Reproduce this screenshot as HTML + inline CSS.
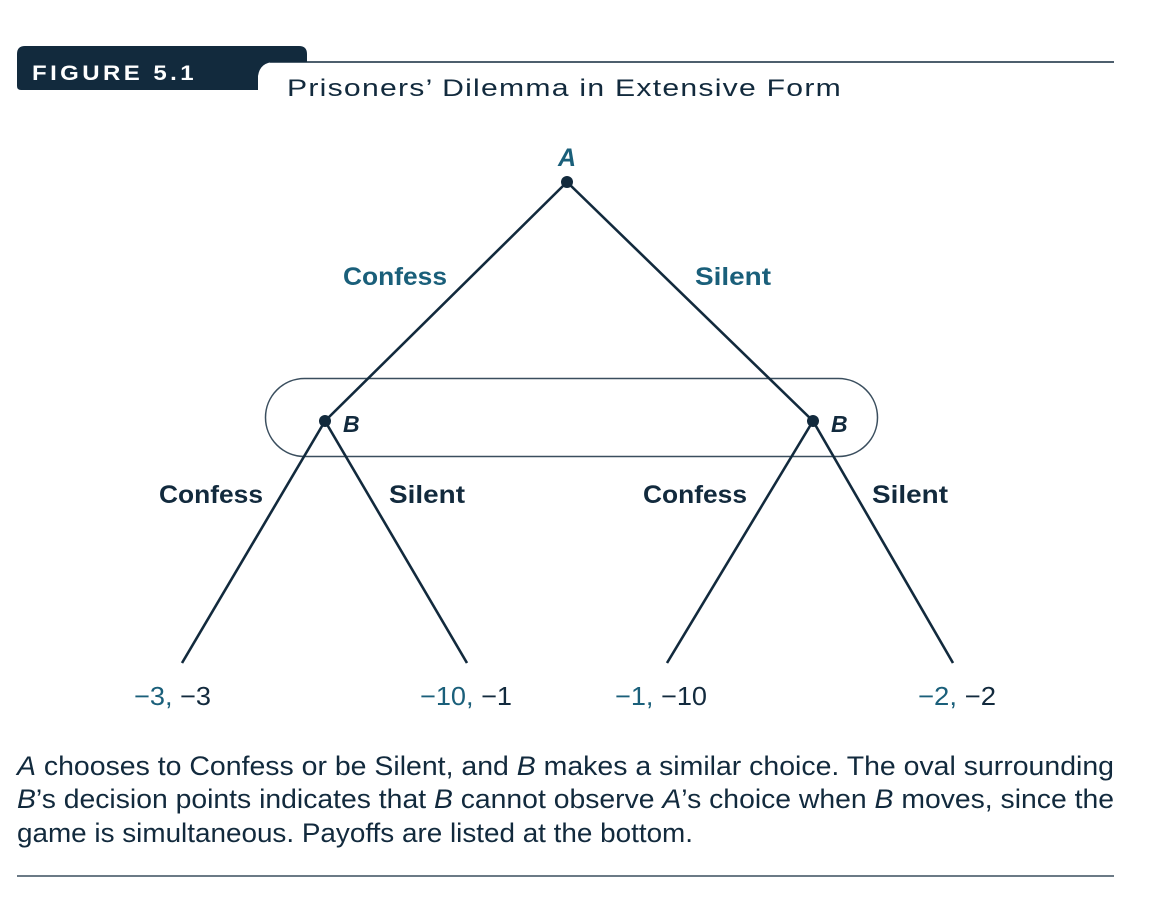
<!DOCTYPE html>
<html><head><meta charset="utf-8"><style>
html,body{margin:0;padding:0;background:#fff;}
svg{display:block;}
text{font-family:"Liberation Sans",sans-serif;}
</style></head><body>
<svg width="1154" height="908" viewBox="0 0 1154 908" xmlns="http://www.w3.org/2000/svg">
<line x1="270" y1="62" x2="1114" y2="62" stroke="#122a3d" stroke-width="1.6"/>
<path d="M17,86 L17,54 Q17,46 25,46 L299,46 Q307,46 307,54 L307,62 L275,62 Q260,62 258,76 L258,90 L21,90 Q17,90 17,86 Z" fill="#122a3d"/>
<text x="32" y="80" fill="#fff" font-size="21" font-weight="bold" letter-spacing="3" textLength="165" lengthAdjust="spacingAndGlyphs">FIGURE 5.1</text>
<text x="287" y="96" fill="#122a3d" font-size="24" letter-spacing="1" textLength="555" lengthAdjust="spacingAndGlyphs">Prisoners’ Dilemma in Extensive Form</text>
<rect x="265.5" y="378.5" width="612" height="78" rx="39" ry="39" fill="none" stroke="#3a4e5e" stroke-width="1.5"/>
<g stroke="#122a3d" stroke-width="2.6" fill="none">
<line x1="567" y1="182" x2="325" y2="421"/>
<line x1="567" y1="182" x2="813" y2="421"/>
<line x1="325" y1="421" x2="182" y2="663"/>
<line x1="325" y1="421" x2="467" y2="663"/>
<line x1="813" y1="421" x2="667" y2="663"/>
<line x1="813" y1="421" x2="953" y2="663"/>
</g>
<circle cx="567" cy="182" r="6" fill="#122a3d"/>
<circle cx="325" cy="421" r="6" fill="#122a3d"/>
<circle cx="813" cy="421" r="6" fill="#122a3d"/>
<text x="567" y="166" fill="#1a5f7a" font-size="25" font-weight="bold" font-style="italic" text-anchor="middle">A</text>
<text x="343" y="285" fill="#1a5f7a" font-size="25" font-weight="bold" textLength="104" lengthAdjust="spacingAndGlyphs">Confess</text>
<text x="695" y="285" fill="#1a5f7a" font-size="25" font-weight="bold" textLength="76" lengthAdjust="spacingAndGlyphs">Silent</text>
<text x="343" y="432" fill="#122a3d" font-size="23" font-weight="bold" font-style="italic">B</text>
<text x="831" y="432" fill="#122a3d" font-size="23" font-weight="bold" font-style="italic">B</text>
<text x="159" y="503" fill="#122a3d" font-size="25" font-weight="bold" textLength="104" lengthAdjust="spacingAndGlyphs">Confess</text>
<text x="389" y="503" fill="#122a3d" font-size="25" font-weight="bold" textLength="76" lengthAdjust="spacingAndGlyphs">Silent</text>
<text x="643" y="503" fill="#122a3d" font-size="25" font-weight="bold" textLength="104" lengthAdjust="spacingAndGlyphs">Confess</text>
<text x="872" y="503" fill="#122a3d" font-size="25" font-weight="bold" textLength="76" lengthAdjust="spacingAndGlyphs">Silent</text>
<g font-size="26">
<text x="134" y="705" textLength="77" lengthAdjust="spacingAndGlyphs"><tspan fill="#1a5f7a">−3,</tspan><tspan fill="#122a3d"> −3</tspan></text>
<text x="420" y="705" textLength="92" lengthAdjust="spacingAndGlyphs"><tspan fill="#1a5f7a">−10,</tspan><tspan fill="#122a3d"> −1</tspan></text>
<text x="615" y="705" textLength="92" lengthAdjust="spacingAndGlyphs"><tspan fill="#1a5f7a">−1,</tspan><tspan fill="#122a3d"> −10</tspan></text>
<text x="918" y="705" textLength="78" lengthAdjust="spacingAndGlyphs"><tspan fill="#1a5f7a">−2,</tspan><tspan fill="#122a3d"> −2</tspan></text>
</g>
<g fill="#122a3d" font-size="27">
<text x="17" y="775" textLength="1097" lengthAdjust="spacingAndGlyphs"><tspan font-style="italic">A</tspan> chooses to Confess or be Silent, and <tspan font-style="italic">B</tspan> makes a similar choice. The oval surrounding</text>
<text x="17" y="808" textLength="1097" lengthAdjust="spacingAndGlyphs"><tspan font-style="italic">B</tspan>’s decision points indicates that <tspan font-style="italic">B</tspan> cannot observe <tspan font-style="italic">A</tspan>’s choice when <tspan font-style="italic">B</tspan> moves, since the</text>
<text x="17" y="842" textLength="676" lengthAdjust="spacingAndGlyphs">game is simultaneous. Payoffs are listed at the bottom.</text>
</g>
<line x1="17" y1="876" x2="1114" y2="876" stroke="#3a4e5e" stroke-width="1.6"/>
</svg>
</body></html>
